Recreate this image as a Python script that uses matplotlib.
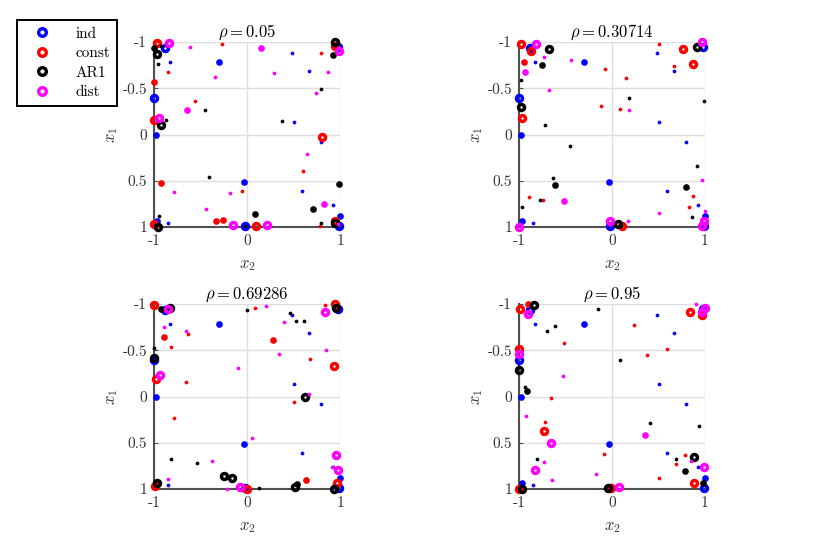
import matplotlib
matplotlib.use('Agg')
import matplotlib.pyplot as plt
from matplotlib.lines import Line2D

plt.rcParams['mathtext.fontset'] = 'cm'

rhos = ['0.05', '0.30714', '0.69286', '0.95']
names = ['ind', 'const', 'AR1', 'dist']
colors = ['blue', 'red', 'black', 'magenta']
tick_vals = [-1, -0.5, 0, 0.5, 1]
tick_text = ['-1', '-0.5', '0', '0.5', '1']

# points are (x2, x1, weight)
ind = [(-0.88, -0.93, 3), (0.98, -0.95, 3), (-0.30, -0.78, 2), (-0.83, -0.78, 1),
       (0.48, -0.88, 1), (0.67, -0.69, 1), (-1.0, -0.39, 3), (0.50, -0.13, 1),
       (-0.98, 0.01, 2), (0.80, 0.08, 1), (-0.03, 0.51, 2), (0.59, 0.61, 1),
       (0.93, 0.76, 1), (1.0, 0.88, 2), (-0.97, 0.93, 2), (-0.85, 0.96, 1),
       (-0.02, 0.99, 3), (0.99, 0.99, 3)]

const_1 = [(-0.97, -0.99, 3), (-0.27, -0.98, 1), (0.80, -0.88, 1), (0.95, -0.96, 3),
           (-0.85, -0.68, 1), (-1.0, -0.57, 2), (-0.56, -0.36, 1), (-1.0, -0.16, 3),
           (0.81, 0.03, 3), (0.60, 0.39, 1), (-0.92, 0.52, 2), (-0.05, 0.61, 1),
           (-0.33, 0.94, 2), (-0.26, 0.92, 2), (0.10, 0.99, 3), (0.78, 0.99, 1),
           (0.95, 0.94, 3), (-1.0, 0.97, 3)]
ar1_1 = [(-1.0, -0.93, 2), (-0.97, -0.87, 3), (-0.92, -0.96, 1), (-0.96, -0.76, 1),
         (0.95, -1.0, 3), (0.93, -0.86, 2), (0.80, -0.49, 1), (-0.45, -0.26, 1),
         (-0.87, -0.16, 1), (-0.92, -0.10, 3), (0.38, -0.15, 1), (-0.41, 0.46, 1),
         (0.99, 0.54, 2), (0.09, 0.86, 2), (0.71, 0.80, 2), (-0.95, 0.88, 1),
         (-0.96, 1.0, 3), (-0.02, 0.99, 1), (0.80, 0.96, 1), (0.95, 0.96, 3)]
dist_1 = [(-0.84, -0.99, 3), (-0.61, -0.95, 1), (0.15, -0.93, 2), (0.99, -0.90, 3),
          (0.29, -0.67, 1), (0.87, -0.68, 1), (-0.34, -0.62, 1), (0.74, -0.45, 1),
          (-0.64, -0.26, 2), (-0.95, -0.18, 3), (0.65, 0.21, 1), (-0.79, 0.62, 1),
          (-0.18, 0.63, 1), (-0.44, 0.81, 1), (0.83, 0.75, 2), (-0.15, 0.98, 3),
          (0.21, 0.98, 3), (0.98, 0.97, 1)]

const_2 = [(-0.98, -0.98, 3), (-0.87, -0.90, 3), (0.51, -0.98, 1), (0.76, -0.92, 3),
           (0.87, -0.76, 3), (-0.95, -0.78, 2), (-0.08, -0.71, 1), (0.67, -0.74, 1),
           (0.15, -0.61, 1), (-0.12, -0.31, 1), (0.09, -0.28, 1), (-0.97, -0.18, 3),
           (-0.89, 0.68, 1), (-0.74, 0.71, 1), (0.87, 0.67, 1), (0.83, 0.78, 1),
           (0.11, 0.99, 3), (0.96, 0.97, 1)]
ar1_2 = [(-0.98, -0.59, 1), (-0.75, -0.75, 2), (-0.68, -0.92, 3), (0.91, -0.95, 3),
         (-0.98, -0.30, 3), (-0.72, -0.10, 1), (-0.45, 0.12, 1), (0.18, -0.40, 1),
         (0.99, -0.36, 1), (-0.63, 0.47, 1), (-0.61, 0.55, 2), (-0.77, 0.71, 1),
         (-0.97, 0.78, 1), (0.91, 0.34, 1), (0.80, 0.57, 2), (0.86, 0.89, 1),
         (0.06, 0.97, 3), (1.0, 0.96, 1)]
dist_2 = [(-0.82, -0.98, 3), (-0.94, -0.68, 2), (-0.73, -0.84, 1), (-0.44, -0.81, 1),
          (-0.68, -0.48, 1), (0.18, -0.26, 1), (0.97, -1.0, 3), (0.97, 0.49, 1),
          (-0.52, 0.72, 2), (0.50, 0.85, 1), (1.0, 0.83, 1), (-0.02, 0.94, 3),
          (-1.0, 1.0, 3), (0.17, 0.94, 1), (0.99, 0.94, 3), (0.97, 0.99, 3)]

const_3 = [(-1.0, -0.99, 3), (0.95, -1.0, 3), (0.09, -0.96, 1), (0.84, -0.99, 1),
           (-0.89, -0.64, 2), (-0.82, -0.54, 1), (-0.63, -0.68, 1), (0.28, -0.61, 2),
           (0.68, -0.41, 1), (0.94, -0.33, 3), (-0.66, -0.16, 1), (-0.98, -0.19, 3),
           (0.51, 0.06, 1), (-0.78, 0.23, 1), (0.63, 0.90, 2), (0.97, 0.94, 3),
           (-0.99, 0.97, 3), (0.0, 1.0, 3)]
ar1_3 = [(-0.93, -0.95, 2), (-0.83, -0.96, 3), (0.0, -0.93, 1), (0.46, -0.90, 1),
         (0.53, -0.82, 1), (0.61, -0.82, 1), (0.96, -0.96, 3), (-1.0, -0.52, 1),
         (-1.0, -0.42, 3), (0.62, 0.0, 3), (-0.82, 0.68, 1), (-0.54, 0.72, 1),
         (-0.25, 0.86, 3), (-0.16, 0.88, 3), (0.13, 0.99, 1), (-0.97, 0.94, 3),
         (0.52, 0.98, 3), (0.54, 0.95, 2), (0.94, 1.0, 3)]
dist_3 = [(-0.85, -0.95, 3), (-0.89, -0.75, 1), (-0.66, -0.71, 1), (0.20, -0.98, 1),
          (0.40, -0.81, 1), (0.34, -0.46, 1), (0.85, -0.50, 1), (0.84, -0.91, 3),
          (-0.10, -0.31, 1), (0.67, -0.03, 1), (-0.94, -0.23, 3), (0.05, 0.45, 1),
          (-0.38, 0.70, 1), (-0.85, 0.89, 1), (-0.22, 1.0, 1), (-0.08, 0.98, 3),
          (0.96, 0.63, 3), (0.98, 0.79, 3), (0.91, 0.76, 1)]

const_4 = [(-0.99, -0.95, 3), (-0.90, -1.0, 2), (-1.0, -0.51, 3), (-0.52, -0.58, 1),
           (-0.66, 0.02, 1), (-0.72, 0.28, 1), (-0.73, 0.37, 3), (-0.09, 0.62, 1),
           (0.24, -0.77, 1), (0.38, -0.45, 1), (0.59, -0.51, 1), (0.84, -0.91, 3),
           (0.97, -0.88, 3), (0.69, 0.73, 1), (0.79, 0.63, 1), (0.50, 0.88, 1),
           (0.88, 0.93, 3), (-1.0, 1.0, 3), (-0.01, 0.99, 3)]
ar1_4 = [(-0.84, -0.99, 3), (-0.15, -0.95, 1), (-0.70, -0.71, 1), (-0.61, -0.76, 1),
         (-1.0, -0.29, 3), (-0.94, -0.10, 1), (-0.91, -0.06, 2), (0.09, -0.40, 1),
         (0.41, 0.29, 1), (0.94, 0.32, 1), (-0.81, 0.68, 1), (0.69, 0.68, 1),
         (0.88, 0.65, 3), (0.79, 0.80, 2), (0.98, 0.94, 2), (-0.97, 1.0, 3),
         (-0.04, 0.99, 3)]
dist_4 = [(-0.90, -0.89, 3), (0.90, -1.0, 1), (1.0, -0.96, 3), (0.97, -0.91, 3),
          (-1.0, -0.46, 3), (-0.53, -0.22, 1), (-0.92, 0.21, 1), (-0.66, 0.50, 3),
          (0.35, 0.42, 2), (-0.73, 0.71, 1), (-0.83, 0.79, 3), (-0.65, 0.90, 1),
          (-0.17, 0.84, 1), (0.85, 0.70, 1), (0.99, 0.76, 3), (0.08, 0.98, 3)]

panels = [
    [ind, const_1, ar1_1, dist_1],
    [ind, const_2, ar1_2, dist_2],
    [ind, const_3, ar1_3, dist_3],
    [ind, const_4, ar1_4, dist_4],
]

# small and medium weights come out as solid dots, large ones as thick rings
dot_size = {1: 2.7, 2: 4.8}
ring_size = 4.3

fig = plt.figure(figsize=(8.3, 5.54), dpi=100)
W, H = 830.0, 554.0
boxes = [(154, 42), (519, 42), (154, 304), (519, 304)]

for k in range(4):
    l, t = boxes[k]
    ax = fig.add_axes([l / W, 1 - (t + 185) / H, 186 / W, 185 / H])
    for series, col in zip(panels[k], colors):
        for p in series:
            if p[2] == 3:
                ax.plot(p[0], p[1], 'o', ms=ring_size, mfc='none', mec=col,
                        mew=2.5, clip_on=False, zorder=3)
            else:
                ax.plot(p[0], p[1], 'o', ms=dot_size[p[2]], mfc=col, mec=col,
                        mew=0, clip_on=False, zorder=3)
    ax.set_xlim(-1, 1)
    ax.set_ylim(1, -1)
    ax.set_xticks([-1, 0, 1])
    ax.set_xticklabels(['-1', '0', '1'], fontfamily='cmr10', fontsize=11)
    ax.set_yticks(tick_vals)
    ax.set_yticklabels(tick_text, fontfamily='cmr10', fontsize=11)
    ax.grid(True, color='#dedede', linewidth=1.0)
    ax.set_axisbelow(True)
    ax.spines['top'].set_visible(False)
    ax.spines['right'].set_visible(False)
    for s in ['left', 'bottom']:
        ax.spines[s].set_color('#505050')
        ax.spines[s].set_linewidth(1.5)
    ax.tick_params(direction='in', length=3, width=0.8, color='#505050',
                   labelcolor='#333333', pad=5)
    ax.set_title(r'$\rho = ' + rhos[k] + '$', fontsize=12, pad=4)
    ax.set_xlabel(r'$x_2$', fontsize=12, color='#333333', labelpad=5)
    ax.set_ylabel(r'$x_1$', fontsize=12, color='#333333', labelpad=2)

handles = [Line2D([], [], linestyle='none', marker='o', markersize=5.5,
                  markerfacecolor='none', markeredgecolor=c, markeredgewidth=2.4)
           for c in colors]
leg = fig.legend(handles, names, loc='upper left',
                 bbox_to_anchor=(17 / W, 1 - 20 / H), borderaxespad=0,
                 fancybox=False, edgecolor='black', framealpha=1,
                 prop={'family': 'cmr10', 'size': 11},
                 borderpad=0.45, labelspacing=0.38, handletextpad=1.0,
                 handlelength=2.4)
leg.get_frame().set_linewidth(1.4)

fig.savefig('out.png', dpi=100)
